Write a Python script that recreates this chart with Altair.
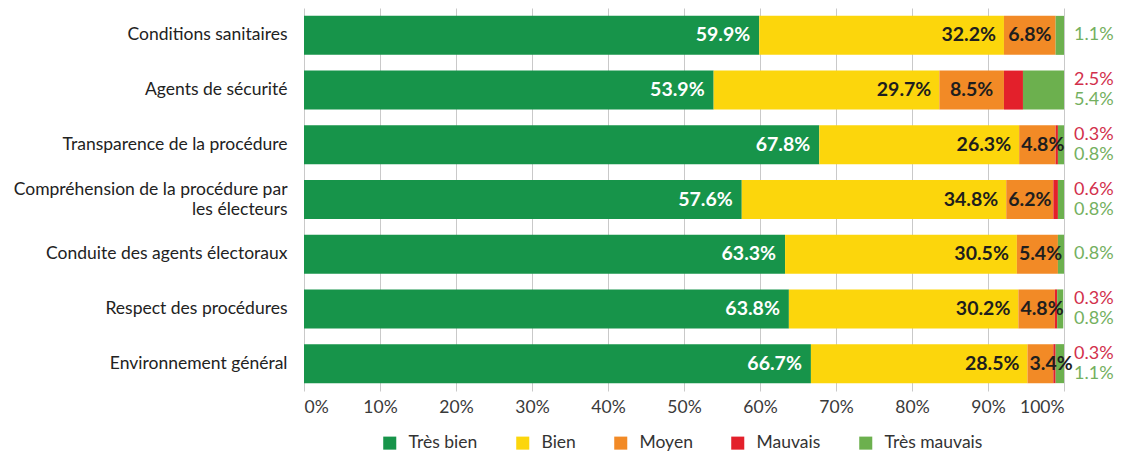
import altair as alt
import pandas as pd

categories = [
    "Conditions sanitaires",
    "Agents de sécurité",
    "Transparence de la procédure",
    "Compréhension de la procédure par les électeurs",
    "Conduite des agents électoraux",
    "Respect des procédures",
    "Environnement général",
]
series = ["Très bien", "Bien", "Moyen", "Mauvais", "Très mauvais"]
tres_bien = [59.9, 53.9, 67.8, 57.6, 63.3, 63.8, 66.7]
bien = [32.2, 29.7, 26.3, 34.8, 30.5, 30.2, 28.5]
moyen = [6.8, 8.5, 4.8, 6.2, 5.4, 4.8, 3.4]
mauvais = [0.0, 2.5, 0.3, 0.6, 0.0, 0.3, 0.3]
tres_mauvais = [1.1, 5.4, 0.8, 0.8, 0.8, 0.8, 1.1]
x_ticks = [0, 10, 20, 30, 40, 50, 60, 70, 80, 90, 100]
colors = ["#17944a", "#fcd60c", "#f28a26", "#e3202b", "#6cb04e"]

df = pd.DataFrame({
    "categorie": categories,
    "Très bien": tres_bien,
    "Bien": bien,
    "Moyen": moyen,
    "Mauvais": mauvais,
    "Très mauvais": tres_mauvais,
})

NUM_FONT = "Lato"
LBL_FONT = "Lato"
LONG = "Compréhension de la procédure par les électeurs"

y_enc = alt.Y(
    "categorie:N",
    sort=categories,
    scale=alt.Scale(paddingInner=0.287, paddingOuter=0.1435),
    axis=alt.Axis(
        title=None,
        labelExpr=f"datum.label == '{LONG}' ? ['Compréhension de la procédure par', 'les électeurs'] : datum.label",
        labelOffset={"condition": {"test": f"datum.value == '{LONG}'", "value": -10}, "value": 0},
        labelFont=LBL_FONT,
        labelFontSize=17.5,
        labelColor="#222222",
        labelPadding=17,
        labelLineHeight=20,
        ticks=False,
        domain=False,
        labelLimit=400,
    ),
)

stacked = (
    alt.Chart(df)
    .transform_fold(series, as_=["serie", "valeur"])
    .transform_calculate(ordre="indexof(['Très bien','Bien','Moyen','Mauvais','Très mauvais'], datum.serie)")
    .transform_stack(stack="valeur", groupby=["categorie"], as_=["x0", "x1"], sort=[alt.SortField("ordre")])
    .transform_calculate(lbl="format(datum.valeur, '.1f') + '%'")
)

x_scale = alt.Scale(domain=[0, 100], nice=False)

bars = stacked.mark_bar(stroke=None).encode(
    y=y_enc,
    x=alt.X(
        "x0:Q",
        scale=x_scale,
        axis=alt.Axis(
            values=x_ticks,
            labelExpr="datum.value + '%'",
            grid=True,
            gridColor="#c9c9c9",
            gridWidth=1,
            ticks=False,
            domain=False,
            title=None,
            labelFont=LBL_FONT,
            labelFontSize=17.5,
            labelColor="#3a3a3a",
            labelPadding=7,
        ),
    ),
    x2="x1:Q",
    color=alt.Color(
        "serie:N",
        scale=alt.Scale(domain=series, range=colors),
        legend=alt.Legend(
            title=None,
            orient="none",
            legendX=77,
            legendY=426,
            direction="horizontal",
            columns=5,
            symbolType="square",
            symbolSize=170,
            symbolStrokeWidth=0,
            labelFont=LBL_FONT,
            labelFontSize=17.5,
            labelColor="#333333",
            labelOffset=10,
            columnPadding=36,
        ),
    ),
)

lbl_tb = stacked.transform_filter("datum.serie == 'Très bien'").mark_text(
    align="right", baseline="middle", dx=-9, font=NUM_FONT, fontSize=19.5, fontWeight="bold", color="white"
).encode(y=y_enc, x=alt.X("x1:Q", scale=x_scale), text="lbl:N")

lbl_b = stacked.transform_filter("datum.serie == 'Bien'").mark_text(
    align="right", baseline="middle", dx=-8, font=NUM_FONT, fontSize=19.5, fontWeight="bold", color="#1e1e1e"
).encode(y=y_enc, x=alt.X("x1:Q", scale=x_scale), text="lbl:N")

lbl_m_big = stacked.transform_filter("datum.serie == 'Moyen' && datum.valeur >= 6").transform_calculate(
    xm="(datum.x0 + datum.x1) / 2"
).mark_text(
    align="center", baseline="middle", font=NUM_FONT, fontSize=19.5, fontWeight="bold", color="#1e1e1e"
).encode(y=y_enc, x=alt.X("xm:Q", scale=x_scale), text="lbl:N")

lbl_m_small = stacked.transform_filter("datum.serie == 'Moyen' && datum.valeur < 6").mark_text(
    align="left", baseline="middle", dx=2, font=NUM_FONT, fontSize=19.5, fontWeight="bold", color="#1e1e1e"
).encode(y=y_enc, x=alt.X("x0:Q", scale=x_scale), text="lbl:N")

right = alt.Chart(df).transform_calculate(
    xr="100",
    lm="format(datum['Mauvais'], '.1f') + '%'",
    ltm="format(datum['Très mauvais'], '.1f') + '%'",
)

lbl_mv = right.transform_filter("datum['Mauvais'] > 0").mark_text(
    align="left", baseline="middle", dx=10, dy=-10, font=NUM_FONT, fontSize=18, color="#d2304c"
).encode(y=y_enc, x=alt.X("xr:Q", scale=x_scale), text="lm:N")

lbl_tm_pair = right.transform_filter("datum['Mauvais'] > 0").mark_text(
    align="left", baseline="middle", dx=10, dy=10, font=NUM_FONT, fontSize=18, color="#74b060"
).encode(y=y_enc, x=alt.X("xr:Q", scale=x_scale), text="ltm:N")

lbl_tm_single = right.transform_filter("datum['Mauvais'] == 0").mark_text(
    align="left", baseline="middle", dx=10, font=NUM_FONT, fontSize=18, color="#74b060"
).encode(y=y_enc, x=alt.X("xr:Q", scale=x_scale), text="ltm:N")

chart = (
    alt.layer(bars, lbl_tb, lbl_b, lbl_m_big, lbl_m_small, lbl_mv, lbl_tm_pair, lbl_tm_single)
    .properties(
        width=760,
        height=383,
        autosize=alt.AutoSizeParams(type="none"),
        padding={"left": 296, "top": 0, "right": 51, "bottom": 64},
    )
    .configure_view(stroke=None)
)

chart.save("out.html", embed_options={"renderer": "svg", "actions": False})
